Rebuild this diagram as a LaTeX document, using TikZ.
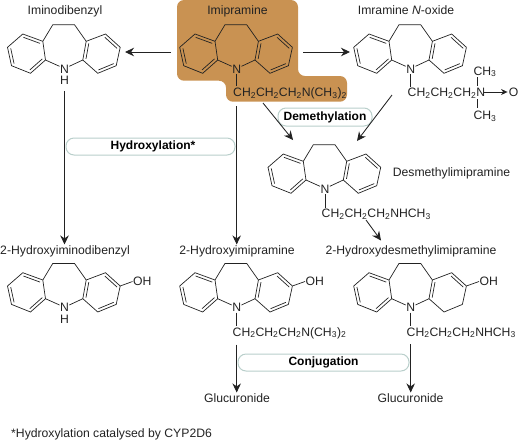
\documentclass[tikz,border=0pt]{standalone}
\usepackage{fontspec}
\setmainfont{Liberation Sans}
\usepackage{tikz}
\usetikzlibrary{calc,arrows.meta}
\definecolor{mb-orange}{HTML}{C99252}
\definecolor{mb-ink}{HTML}{222222}
\definecolor{mb-pill}{HTML}{B9CFCB}
\tikzset{
    bond/.style={draw=mb-ink, line width=0.7pt, line join=round},
    atom/.style={inner sep=0.5pt, font=\fontsize{12.2}{14}\selectfont, text=mb-ink},
    drug/.style={anchor=base, inner sep=1pt, font=\fontsize{12.2}{14}\selectfont, text=mb-ink},
    chain/.style={anchor=base west, inner sep=1pt, font=\fontsize{12.2}{14}\selectfont, text=mb-ink},
    pill/.style={draw=mb-pill, fill=white, line width=1pt, rounded corners=8pt, minimum height=17pt, inner sep=0pt, font=\bfseries\fontsize{12}{14}\selectfont, text=black},
    conn/.style={-{Stealth[length=9pt,width=8.5pt]}, draw=mb-ink, line width=0.85pt}
}
% three fused rings with the N of the middle one at the given point
\newcommand{\tricyclic}[4]{%
\begin{scope}[shift={(#2,#3)}]
    \node[atom] (#1) at (0,0) {N};
    \coordinate (a1) at (-21.7,-27.7); \coordinate (a2) at (-41.7,-35); \coordinate (a3) at (-57,-21.7);
    \coordinate (a4) at (-53,-3.3); \coordinate (a5) at (-34,4.3); \coordinate (a6) at (-19,-9);
    \coordinate (c1) at (21.7,-27.7); \coordinate (c2) at (41,-35); \coordinate (c3) at (55.7,-21.7);
    \coordinate (c4) at (51.7,-3.3); \coordinate (c5) at (33.3,4.3); \coordinate (c6) at (18.3,-9);
    \coordinate (lc) at (-38,-15.5); \coordinate (rc) at (37,-15.5);
    \draw[bond] (a1) -- (a2) -- (a3) -- (a4) -- (a5) -- (a6) -- cycle;
    \draw[bond] (c1) -- (c2) -- (c3) -- (c4) -- (c5) -- (c6) -- cycle;
    \draw[bond] (a1) -- (-11.7,-44.3) -- (10,-44.3) -- (c1);
    \draw[bond] (a6) -- (-5,-2.7);
    \draw[bond] (c6) -- (4.8,-2.7);
    \foreach \p/\q in {a1/a2,a3/a4,a5/a6}
        \draw[bond] ($(\p)!.17!(lc)$) -- ($(\q)!.17!(lc)$);
    \foreach \p/\q in {#4}
        \draw[bond] ($(\p)!.17!(rc)$) -- ($(\q)!.17!(rc)$);
\end{scope}}
\begin{document}
\begin{tikzpicture}[x=1pt, y=-1pt]
\useasboundingbox (0,0) rectangle (519,440);

% ── Imipramine highlight ──────────────────────────────────────
\fill[mb-orange, rounded corners=7pt] (177,0) -- (177,80.7) -- (226,80.7) -- (226,101.7) -- (347,101.7) -- (347,76) -- (298,76) -- (298,0) -- cycle;

% ── Top row ───────────────────────────────────────────────────
\node[drug] (dibName) at (65,14.5) {Iminodibenzyl};
\tricyclic{dibN}{64.5}{69}{c1/c6,c2/c3,c4/c5}
\node[atom] (dibH) at (64.5,80) {H};

\node[drug] (imiName) at (237.5,14.5) {Imipramine};
\tricyclic{imiN}{236.7}{69}{c1/c6,c2/c3,c4/c5}
\node[chain] (imiChain) at (232,96.5) {CH\textsubscript{2}CH\textsubscript{2}CH\textsubscript{2}N(CH\textsubscript{3})\textsubscript{2}};
\draw[bond] (imiN.south) -- (imiN |- imiChain.north);

\node[drug] (noxName) at (406,14.5) {Imramine \textit{N}-oxide};
\tricyclic{noxN}{410.7}{69}{c1/c6,c2/c3,c4/c5}
\node[chain] (noxChain) at (406.5,96.5) {CH\textsubscript{2}CH\textsubscript{2}CH\textsubscript{2}N};
\node[drug] (noxUp) at (485,75) {CH\textsubscript{3}};
\node[drug] (noxDown) at (485,119.5) {CH\textsubscript{3}};
\node[drug] (noxO) at (513.5,96.5) {O};
\coordinate (noxNup) at (477.3,86);
\coordinate (noxNdown) at (477.3,99);
\coordinate (noxUpEnd) at (477.3,77);
\coordinate (noxDownEnd) at (477.3,108);
\coordinate (noxArrow) at (484,92);
\draw[bond] (noxN.south) -- (noxN |- noxChain.north);
\draw[bond] (noxNup) -- (noxUpEnd);
\draw[bond] (noxNdown) -- (noxDownEnd);
\draw[-{Stealth[length=6.5pt,width=6pt]}, draw=mb-ink, line width=0.7pt] (noxArrow) -- (noxO.west |- noxArrow);

% ── Middle (desmethyl) ────────────────────────────────────────
\tricyclic{desN}{325}{189}{c1/c6,c2/c3,c4/c5}
\node[chain] (desChain) at (320.5,217.5) {CH\textsubscript{2}CH\textsubscript{2}CH\textsubscript{2}NHCH\textsubscript{3}};
\node[drug] (desName) at (451.5,176.5) {Desmethylimipramine};
\draw[bond] (desN.south) -- (desN |- desChain.north);

% ── Bottom row ────────────────────────────────────────────────
\node[drug] (hdibName) at (65,254.5) {2-Hydroxyiminodibenzyl};
\tricyclic{hdibN}{64.5}{307.7}{c1/c6,c2/c3,c4/c5}
\node[atom] (hdibH) at (64.5,319) {H};
\node[atom, anchor=west] (hdibOH) at (132.5,281.5) {OH};
\draw[bond] (c3) -- (hdibOH.west);

\node[drug] (himiName) at (237,254.5) {2-Hydroxyimipramine};
\tricyclic{himiN}{236.7}{307.7}{c1/c6,c2/c3,c4/c5}
\node[atom, anchor=west] (himiOH) at (305,281.5) {OH};
\draw[bond] (c3) -- (himiOH.west);
\node[chain] (himiChain) at (231.5,336) {CH\textsubscript{2}CH\textsubscript{2}CH\textsubscript{2}N(CH\textsubscript{3})\textsubscript{2}};
\draw[bond] (himiN.south) -- (himiN |- himiChain.north);

\node[drug] (hdesName) at (411,254.5) {2-Hydroxydesmethylimipramine};
\tricyclic{hdesN}{410.7}{307.7}{c1/c6,c2/c3}
\node[atom, anchor=west] (hdesOH) at (479,281.5) {OH};
\draw[bond] (c3) -- (hdesOH.west);
\node[chain] (hdesChain) at (405.5,336) {CH\textsubscript{2}CH\textsubscript{2}CH\textsubscript{2}NHCH\textsubscript{3}};
\draw[bond] (hdesN.south) -- (hdesN |- hdesChain.north);

\node[drug] (gluA) at (237,402.5) {Glucuronide};
\node[drug] (gluB) at (410.5,402.5) {Glucuronide};

% ── Enzyme steps ──────────────────────────────────────────────
\node[pill, minimum width=169pt] (hydPill) at (150.5,146.5) {\hspace{5pt}Hydroxylation*};
\node[pill, minimum width=94pt, minimum height=18pt] (demPill) at (325,117) {Demethylation};
\node[pill, minimum width=171pt] (conPill) at (323.5,362.5) {Conjugation};

% ── Connectors ────────────────────────────────────────────────
\coordinate (imiLeft) at (171,52);
\coordinate (dibRight) at (125,52);
\coordinate (imiRight) at (303,52);
\coordinate (noxLeft) at (350,52);
\coordinate (imiDemA) at (263,103);
\coordinate (desLeftTop) at (293,140);
\coordinate (noxDemB) at (392,95);
\coordinate (desRightTop) at (357,141);
\coordinate (desOut) at (366,220);
\coordinate (hdesIn) at (381,240.5);

\draw[conn] (imiLeft) -- (dibRight);
\draw[conn] (imiRight) -- (noxLeft);
\draw[conn] (imiDemA) -- (desLeftTop);
\draw[conn] (noxDemB) -- (desRightTop);
\draw[conn] (desOut) -- (hdesIn);
\draw[conn, shorten <=6pt] (dibH.south) -- (dibH |- hdibName.north);
\draw[conn, shorten <=6pt] (imiN |- imiChain.south) -- (imiN |- himiName.north);
\draw[conn, shorten <=5pt] (himiN |- himiChain.south) -- (himiN |- gluA.north);
\draw[conn, shorten <=5pt] (hdesN |- hdesChain.south) -- (hdesN |- gluB.north);

% ── Footnote ──────────────────────────────────────────────────
\node[chain] (note) at (10,437.5) {*Hydroxylation catalysed by CYP2D6};

\end{tikzpicture}
\end{document}
